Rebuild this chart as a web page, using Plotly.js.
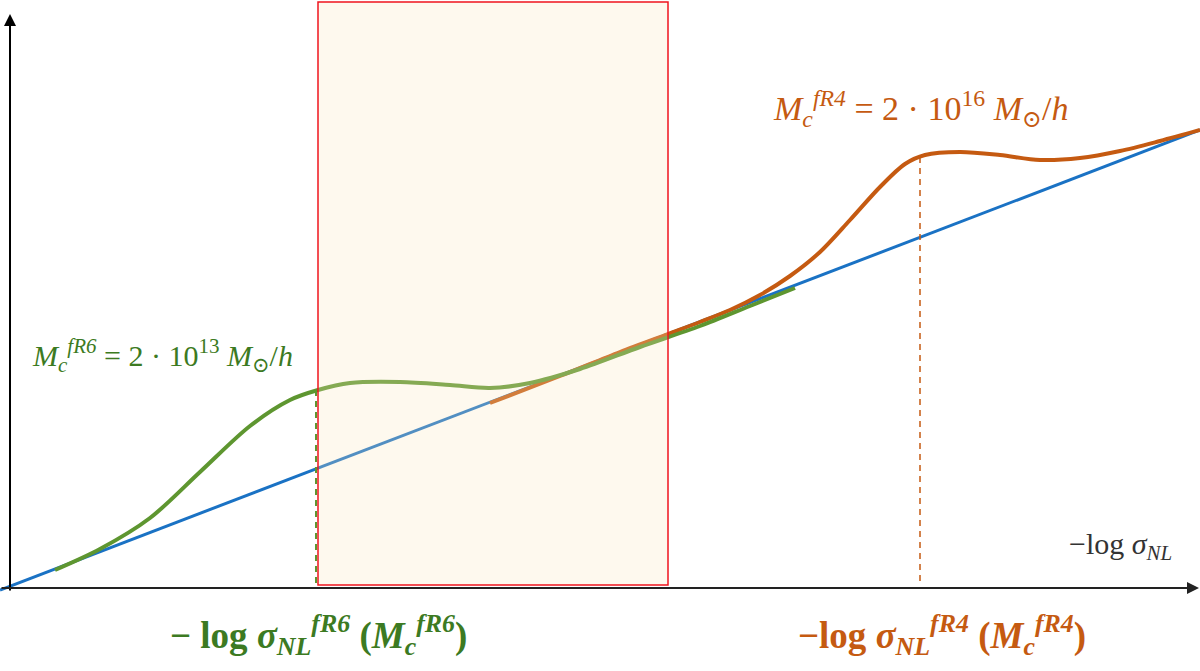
<!DOCTYPE html>
<html>
<head>
<meta charset="utf-8">
<script src="https://cdn.plot.ly/plotly-3.0.1.min.js"></script>
<style>
  html, body { margin: 0; padding: 0; background: #fff; }
  #chart { width: 1200px; height: 671px; }
</style>
</head>
<body>
<div id="chart"></div>
<script>
'use strict';

// schematic units: x grows right, y grows down (same frame as the picture)
const linearX = [0, 1200];
const linearY = [590, 130];

const fr6X = [55, 100, 150, 200, 250, 290, 318, 350, 400, 450, 490, 530, 580, 640, 700, 750, 795];
const fr6Y = [570, 549, 518, 472, 426, 400, 390, 383, 382, 385, 388, 383, 369, 347, 326, 306, 288];

const fr4X = [490, 560, 620, 668, 700, 730, 760, 790, 820, 850, 880, 905, 925, 960, 1000, 1040, 1080, 1120, 1160, 1200];
const fr4Y = [403, 376, 352, 334, 322, 310, 295, 276, 252, 220, 187, 164, 155, 152, 155, 160, 158, 151, 141, 130];

const crossX = { fr6: 316, fr4: 920 };
const crossTop = { fr6: 390, fr4: 157 };
const axisY = 586;

const windowX = [318, 668];
const windowY = [2, 585];

const GREEN = '#5e9630';
const GREEN_TXT = '#3c7a22';
const ORANGE = '#c55a11';
const BLUE = '#1a72c4';

const traces = [
  {
    x: linearX, y: linearY, mode: 'lines',
    line: { color: BLUE, width: 3 }, hoverinfo: 'skip'
  },
  {
    x: fr4X, y: fr4Y, mode: 'lines',
    line: { color: ORANGE, width: 4, shape: 'spline', smoothing: 0.9 }, hoverinfo: 'skip'
  },
  {
    x: fr6X, y: fr6Y, mode: 'lines',
    line: { color: GREEN, width: 4, shape: 'spline', smoothing: 0.9 }, hoverinfo: 'skip'
  },
  {
    x: [crossX.fr6, crossX.fr6], y: [crossTop.fr6, axisY], mode: 'lines',
    line: { color: GREEN, width: 2, dash: '6px,5px' }, hoverinfo: 'skip'
  },
  {
    x: [crossX.fr4, crossX.fr4], y: [crossTop.fr4, axisY], mode: 'lines',
    line: { color: ORANGE, width: 1.5, dash: '6px,5px' }, hoverinfo: 'skip'
  }
];

const serif = 'Liberation Serif, DejaVu Serif, serif';

const layout = {
  width: 1200, height: 671,
  margin: { t: 0, b: 0, l: 0, r: 0 },
  paper_bgcolor: '#fff', plot_bgcolor: '#fff',
  showlegend: false,
  xaxis: { range: [0, 1200], visible: false, fixedrange: true },
  yaxis: { range: [671, 0], visible: false, fixedrange: true },
  shapes: [
    {
      type: 'rect', layer: 'above',
      x0: windowX[0], x1: windowX[1], y0: windowY[0], y1: windowY[1],
      line: { color: '#f0141e', width: 1.5 },
      fillcolor: 'rgba(251,231,187,0.25)'
    }
  ],
  annotations: [
    // axes
    {
      x: 10, y: 14, ax: 10, ay: 592, axref: 'x', ayref: 'y',
      showarrow: true, arrowhead: 2, arrowsize: 1.2, arrowwidth: 2, arrowcolor: '#000', text: ''
    },
    {
      x: 1199, y: 588, ax: 0, ay: 588, axref: 'x', ayref: 'y',
      showarrow: true, arrowhead: 2, arrowsize: 1.2, arrowwidth: 2, arrowcolor: '#222', text: ''
    },
    {
      x: 1120, y: 546, showarrow: false,
      text: '−log <i>σ</i><sub><i>NL</i></sub>',
      font: { family: serif, size: 30, color: '#333' }
    },
    // mass scale labels
    {
      x: 162, y: 355, showarrow: false,
      text: '<i>M</i><sub><i>c</i></sub><sup><i>fR6</i></sup> = 2 · 10<sup>13</sup> <i>M</i><sub>⊙</sub>/<i>h</i>',
      font: { family: serif, size: 30, color: GREEN_TXT }
    },
    {
      x: 920, y: 108, showarrow: false,
      text: '<i>M</i><sub><i>c</i></sub><sup><i>fR4</i></sup> = 2 · 10<sup>16</sup> <i>M</i><sub>⊙</sub>/<i>h</i>',
      font: { family: serif, size: 34, color: ORANGE }
    },
    // bottom labels
    {
      x: 318, y: 635, showarrow: false,
      text: '<b>− log <i>σ</i><sub><i>NL</i></sub><sup><i>fR6</i></sup> (<i>M</i><sub><i>c</i></sub><sup><i>fR6</i></sup>)</b>',
      font: { family: serif, size: 37, color: GREEN_TXT }
    },
    {
      x: 942, y: 635, showarrow: false,
      text: '<b>−log <i>σ</i><sub><i>NL</i></sub><sup><i>fR4</i></sup> (<i>M</i><sub><i>c</i></sub><sup><i>fR4</i></sup>)</b>',
      font: { family: serif, size: 37, color: ORANGE }
    }
  ]
};

Plotly.newPlot('chart', traces, layout, { displayModeBar: false, staticPlot: true });
</script>
</body>
</html>
